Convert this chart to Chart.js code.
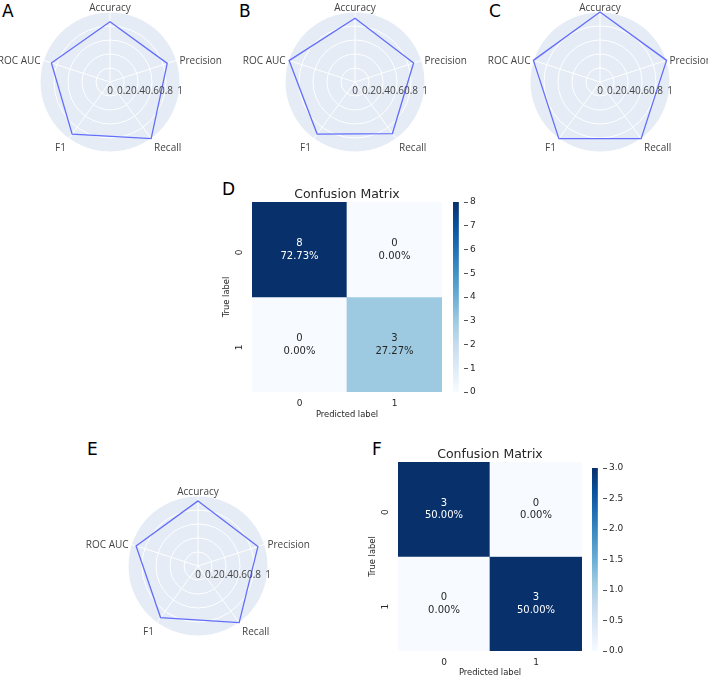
<!DOCTYPE html>
<html>
<head>
<meta charset="utf-8">
<script src="https://cdn.jsdelivr.net/npm/chart.js@4.4.0/dist/chart.umd.min.js"></script>
<style>
  body { margin: 0; background: #fff; width: 708px; height: 678px; position: relative; overflow: hidden; }
  canvas { position: absolute; }
  .tag { position: absolute; font: 17px "DejaVu Sans"; line-height: 1; color: #000; }
</style>
</head>
<body>
<div class="tag" style="left:2px;top:3px">A</div>
<div class="tag" style="left:239px;top:3px">B</div>
<div class="tag" style="left:489px;top:3px">C</div>
<div class="tag" style="left:222px;top:181px">D</div>
<div class="tag" style="left:87px;top:441px">E</div>
<div class="tag" style="left:372px;top:441px">F</div>

<canvas id="radarA" width="235" height="165" style="left:0;top:0"></canvas>
<canvas id="radarB" width="235" height="165" style="left:235px;top:0"></canvas>
<canvas id="radarC" width="238" height="165" style="left:470px;top:0"></canvas>
<canvas id="radarE" width="360" height="238" style="left:0;top:440px"></canvas>
<canvas id="cmD" width="232" height="240" style="left:212px;top:180px"></canvas>
<canvas id="cbD" width="45" height="240" style="left:445px;top:180px"></canvas>
<canvas id="cmF" width="226" height="238" style="left:358px;top:440px"></canvas>
<canvas id="cbF" width="45" height="238" style="left:584px;top:440px"></canvas>

<script>
// radar panels
const metricLabels = ['Accuracy', 'Precision', 'Recall', 'F1', 'ROC AUC'];
const scoresA = [0.86, 0.86, 1.0, 0.92, 0.88];
const scoresB = [0.91, 0.88, 0.91, 0.92, 0.99];
const scoresC = [1.0, 1.0, 1.0, 1.0, 1.0];
const scoresE = [0.93, 0.90, 1.0, 0.91, 0.93];
const radialTicks = [0, 0.2, 0.4, 0.6, 0.8, 1];

// confusion matrices
const cmClasses = ['0', '1'];
const cmD = [[8, 0], [0, 3]];
const cmF = [[3, 0], [0, 3]];
const cbTicksD = [0, 1, 2, 3, 4, 5, 6, 7, 8];
const cbTicksF = [0, 0.5, 1.0, 1.5, 2.0, 2.5, 3.0];

const bluesStops = ['#f7fbff', '#deebf7', '#c6dbef', '#9ecae1', '#6baed6', '#4292c6', '#2171b5', '#08519c', '#08306b'];

function hexRgb(h) {
  return [1, 3, 5].map(i => parseInt(h.slice(i, i + 2), 16));
}
function blues(t) {
  const p = Math.max(0, Math.min(1, t)) * (bluesStops.length - 1);
  const i = Math.min(Math.floor(p), bluesStops.length - 2);
  const f = p - i;
  const a = hexRgb(bluesStops[i]), b = hexRgb(bluesStops[i + 1]);
  const c = a.map((v, k) => Math.round(v + (b[k] - v) * f));
  return 'rgb(' + c.join(',') + ')';
}

const plotlyFont = '10px "Open Sans"';
const plotlyText = '#444444';

const polarDecor = {
  id: 'polarDecor',
  beforeDraw(chart) {
    const s = chart.scales.r, c = chart.ctx;
    c.save();
    c.fillStyle = '#e5ecf6';
    c.beginPath();
    c.arc(s.xCenter, s.yCenter, s.drawingArea, 0, Math.PI * 2);
    c.fill();
    c.restore();
  },
  afterDraw(chart) {
    const s = chart.scales.r, c = chart.ctx;
    c.save();
    c.font = plotlyFont;
    c.fillStyle = plotlyText;
    chart.data.labels.forEach((lab, i) => {
      const ang = s.getIndexAngle(i) - Math.PI / 2;
      const cs = Math.cos(ang), sn = Math.sin(ang);
      const top = sn < -0.9, low = sn > 0.3;
      const p = s.getPointPosition(i, s.drawingArea + (top ? -1 : low ? 5 : 3));
      c.textAlign = cs > 0.3 ? 'left' : cs < -0.3 ? 'right' : 'center';
      c.textBaseline = top ? 'bottom' : low ? 'top' : 'middle';
      c.fillText(lab, p.x, p.y + (top || low ? 0 : 1.5));
    });
    c.textAlign = 'center';
    c.textBaseline = 'middle';
    radialTicks.forEach(v => {
      c.fillText(String(v), s.xCenter + s.getDistanceFromCenterForValue(v), s.yCenter + 9);
    });
    c.restore();
  }
};

function radar(id, values, pad) {
  new Chart(document.getElementById(id), {
    type: 'radar',
    data: {
      labels: metricLabels,
      datasets: [{
        data: values,
        borderColor: '#636efa',
        borderWidth: 1.3,
        fill: false,
        pointRadius: 0,
        clip: false
      }]
    },
    options: {
      responsive: false,
      animation: false,
      layout: { padding: pad },
      plugins: { legend: { display: false }, tooltip: { enabled: false } },
      scales: {
        r: {
          min: 0,
          max: 1,
          afterBuildTicks: s => { s.ticks = radialTicks.map(v => ({ value: v })); },
          ticks: { display: false },
          pointLabels: { display: false },
          grid: { color: '#ffffff', circular: true, lineWidth: 1 },
          angleLines: { color: '#ffffff', lineWidth: 1 }
        }
      }
    },
    plugins: [polarDecor]
  });
}

radar('radarA', scoresA, { left: 40, right: 55, top: 12, bottom: 13 });
radar('radarB', scoresB, { left: 50, right: 45, top: 12, bottom: 13 });
radar('radarC', scoresC, { left: 60, right: 38, top: 12, bottom: 13 });
radar('radarE', scoresE, { left: 128, right: 92, top: 56, bottom: 42 });

const sbText = '#262626';
const sbFont = 'DejaVu Sans';

const cellText = {
  id: 'cellText',
  afterDatasetsDraw(chart) {
    const c = chart.ctx;
    const all = chart.data.datasets.flatMap(d => d.counts);
    const total = all.reduce((a, b) => a + b, 0);
    const max = Math.max(...all);
    c.save();
    c.font = '10px "' + sbFont + '"';
    c.textAlign = 'center';
    c.textBaseline = 'middle';
    chart.data.datasets.forEach((ds, di) => {
      chart.getDatasetMeta(di).data.forEach((bar, j) => {
        const v = ds.counts[j];
        const cy = (bar.y + bar.base) / 2;
        c.fillStyle = v / max > 0.5 ? '#ffffff' : sbText;
        c.fillText(String(v), bar.x, cy - 6);
        c.fillText((v / total * 100).toFixed(2) + '%', bar.x, cy + 6.5);
      });
    });
    c.restore();
  }
};

function heatmap(id, cm, axisH) {
  const max = Math.max(...cm.flat());
  new Chart(document.getElementById(id), {
    type: 'bar',
    data: {
      labels: cmClasses,
      datasets: cm.map((row, r) => ({
        data: row.map(() => [r, r + 1]),
        counts: row,
        backgroundColor: row.map(v => blues(v / max)),
        borderWidth: 0,
        grouped: false,
        barPercentage: 1,
        categoryPercentage: 1
      }))
    },
    options: {
      responsive: false,
      animation: false,
      layout: { padding: { right: 2 } },
      plugins: {
        legend: { display: false },
        tooltip: { enabled: false },
        title: {
          display: true,
          fullSize: false,
          text: 'Confusion Matrix',
          color: sbText,
          font: { family: sbFont, size: 12.5, weight: 'normal' },
          padding: { top: 7, bottom: 0 }
        }
      },
      scales: {
        x: {
          type: 'category',
          grid: { display: false, drawTicks: false },
          border: { display: false },
          ticks: { color: sbText, font: { family: sbFont, size: 9 }, padding: 6 },
          title: { display: true, text: 'Predicted label', color: sbText, font: { family: sbFont, size: 8.4 }, padding: { top: 0, bottom: 0 } },
          afterFit: s => { s.height = axisH; }
        },
        y: {
          type: 'linear',
          min: 0,
          max: cmClasses.length,
          reverse: true,
          afterBuildTicks: s => { s.ticks = cmClasses.map((c, i) => ({ value: i + 0.5 })); },
          grid: { display: false, drawTicks: false },
          border: { display: false },
          ticks: {
            color: sbText,
            font: { family: sbFont, size: 9 },
            padding: 12,
            minRotation: 90,
            maxRotation: 90,
            callback: v => cmClasses[Math.floor(v)]
          },
          title: { display: true, text: 'True label', color: sbText, font: { family: sbFont, size: 8.4 }, padding: { top: 10, bottom: 0 } },
          afterFit: s => { s.width = 40; }
        }
      }
    },
    plugins: [cellText]
  });
}

function colorbar(id, cm, ticks, digits, padTop, padBottom) {
  const max = Math.max(...cm.flat());
  new Chart(document.getElementById(id), {
    type: 'bar',
    data: {
      labels: [''],
      datasets: [{
        data: [[0, max]],
        borderWidth: 0,
        barPercentage: 1,
        categoryPercentage: 1,
        backgroundColor: ctx => {
          const a = ctx.chart.chartArea;
          if (!a) return bluesStops[4];
          const g = ctx.chart.ctx.createLinearGradient(0, a.bottom, 0, a.top);
          bluesStops.forEach((col, i) => g.addColorStop(i / (bluesStops.length - 1), col));
          return g;
        }
      }]
    },
    options: {
      responsive: false,
      animation: false,
      layout: { padding: { left: 8, top: padTop, bottom: padBottom } },
      plugins: { legend: { display: false }, tooltip: { enabled: false } },
      scales: {
        x: { display: false, offset: false },
        y: {
          position: 'right',
          min: 0,
          max: max,
          afterBuildTicks: s => { s.ticks = ticks.map(v => ({ value: v })); },
          grid: { drawOnChartArea: false, tickLength: 4, color: sbText, lineWidth: 0.8 },
          border: { display: false },
          ticks: { color: sbText, font: { family: sbFont, size: 9 }, padding: 2, callback: v => v.toFixed(digits) },
          afterFit: s => { s.width = 26; }
        }
      }
    }
  });
}

heatmap('cmD', cmD, 28);
colorbar('cbD', cmD, cbTicksD, 0, 22, 28);
heatmap('cmF', cmF, 27);
colorbar('cbF', cmF, cbTicksF, 1, 28, 27);
</script>
</body>
</html>
